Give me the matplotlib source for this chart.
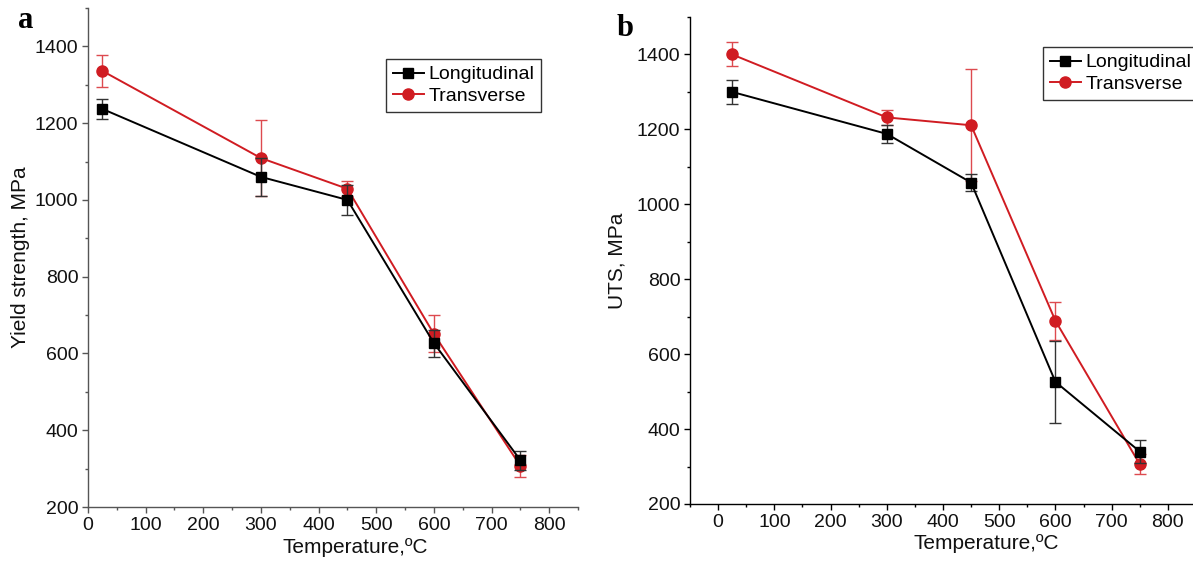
import matplotlib
matplotlib.use("Agg")
import matplotlib.pyplot as plt
from matplotlib.ticker import MultipleLocator
from matplotlib.lines import Line2D

plt.rcParams['font.family'] = ['Liberation Sans', 'DejaVu Sans']

temps = [25, 300, 450, 600, 750]

# Panel a: yield strength
ys_long = [1237, 1060, 1000, 627, 322]
ys_long_err = [27, 50, 40, 35, 25]
ys_trans = [1336, 1109, 1029, 651, 307]
ys_trans_err = [42, 100, 20, 48, 29]

# Panel b: UTS
uts_long = [1300, 1188, 1058, 526, 340]
uts_long_err = [32, 24, 23, 110, 30]
uts_trans = [1400, 1232, 1211, 689, 306]
uts_trans_err = [32, 19, 150, 51, 27]

BLACK = '#000000'
RED = '#d01c22'

fig = plt.figure(figsize=(11.93, 5.61), dpi=100)
axA = fig.add_axes([88/1193, 54/561, 490/1193, 499/561])
axB = fig.add_axes([690/1193, 57/561, 506/1193, 487/561])

def draw(ax, yl, yle, yt, yte, xlim, ylabel, spine_color, xlab_pos, ylab_pad):
    ax.errorbar(temps, yt, yerr=yte, color=RED, marker='o', markersize=8,
                linewidth=1.4, ecolor='#dd4a4f', elinewidth=1.0, capsize=4, capthick=1.0,
                label='Transverse', zorder=2)
    ax.errorbar(temps, yl, yerr=yle, color=BLACK, marker='s', markersize=6.5,
                linewidth=1.4, ecolor='#333333', elinewidth=1.0, capsize=4, capthick=1.0,
                label='Longitudinal', zorder=3)
    ax.set_xlim(*xlim)
    ax.set_ylim(200, 1500)
    ax.xaxis.set_minor_locator(MultipleLocator(50))
    ax.yaxis.set_minor_locator(MultipleLocator(100))
    ax.set_yticks([200, 400, 600, 800, 1000, 1200, 1400])
    ax.set_xticks([0, 100, 200, 300, 400, 500, 600, 700, 800])
    for s in ['top', 'right']:
        ax.spines[s].set_visible(False)
    for s in ['left', 'bottom']:
        ax.spines[s].set_color(spine_color)
        ax.spines[s].set_linewidth(1.0)
    ax.tick_params(which='major', direction='out', length=4, width=1.0,
                   labelsize=14, colors=spine_color, labelcolor='#111111', pad=3)
    ax.tick_params(which='minor', direction='out', length=2.5, width=1.0, colors=spine_color)
    ax.set_xlabel('Temperature,ºC', fontsize=15, labelpad=2, color='#111111')
    ax.xaxis.set_label_coords(xlab_pos, -0.062)
    ax.set_ylabel(ylabel, fontsize=15, labelpad=ylab_pad, color='#111111')

draw(axA, ys_long, ys_long_err, ys_trans, ys_trans_err, (0, 850),
     'Yield strength, MPa', '#555555', 0.546, 3)
draw(axB, uts_long, uts_long_err, uts_trans, uts_trans_err, (-50, 850),
     'UTS, MPa', '#000000', 0.585, 7)

handles = [Line2D([], [], color=BLACK, marker='s', markersize=6.5, linewidth=1.4),
           Line2D([], [], color=RED, marker='o', markersize=8, linewidth=1.4)]
labels = ['Longitudinal', 'Transverse']

for ax, (x0, y0) in [(axA, (386, 59)), (axB, (1043, 47))]:
    leg = fig.legend(handles, labels, loc='upper left',
                     bbox_to_anchor=(x0/1193, 1 - y0/561), bbox_transform=fig.transFigure,
                     fontsize=14, frameon=True, fancybox=False, handlelength=1.6,
                     handletextpad=0.25, borderpad=0.35, labelspacing=0.2,
                     borderaxespad=0.0)
    leg.get_frame().set_edgecolor('#000000')
    leg.get_frame().set_linewidth(1.0)

fig.text(18/1193, 1 - 21/561, 'a', fontsize=22, fontweight='bold',
         family=['Liberation Serif', 'DejaVu Serif'], ha='left', va='center')
fig.text(617/1193, 1 - 29/561, 'b', fontsize=22, fontweight='bold',
         family=['Liberation Serif', 'DejaVu Serif'], ha='left', va='center')

fig.savefig('out.png', dpi=100)
